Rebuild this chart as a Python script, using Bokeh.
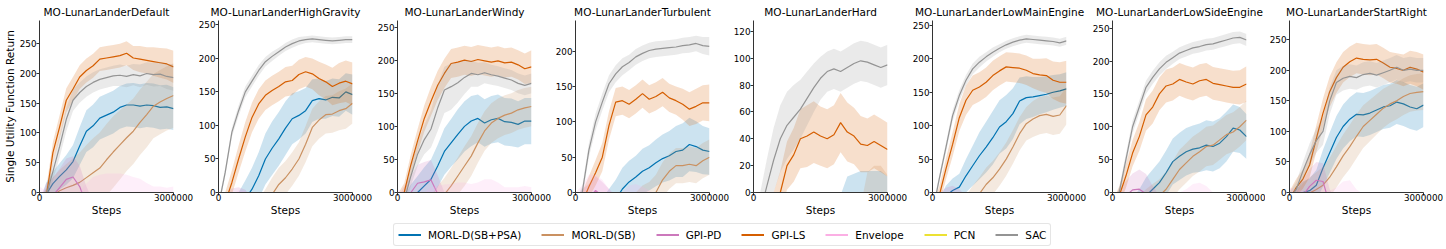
import numpy as np
from bokeh.plotting import figure
from bokeh.layouts import row, column
from bokeh.models import Range1d, FixedTicker, BasicTickFormatter, Legend, LegendItem, ColumnDataSource
from bokeh.embed import file_html
from bokeh.resources import INLINE

# ---------------- data ----------------
STEPS = [0, 150000, 300000, 450000, 600000, 750000, 900000, 1050000, 1200000, 1350000, 1500000,
         1650000, 1800000, 1950000, 2100000, 2250000, 2400000, 2550000, 2700000, 2850000, 3000000]

ALGOS = ["MORL-D(SB+PSA)", "MORL-D(SB)", "GPI-PD", "GPI-LS", "Envelope", "PCN", "SAC"]
COLORS = ["#0173b2", "#ca9161", "#cc78bc", "#d55e00", "#fbafe4", "#ece133", "#949494"]

ENVS = ["MO-LunarLanderDefault", "MO-LunarLanderHighGravity", "MO-LunarLanderWindy",
        "MO-LunarLanderTurbulent", "MO-LunarLanderHard", "MO-LunarLanderLowMainEngine",
        "MO-LunarLanderLowSideEngine", "MO-LunarLanderStartRight"]
Y_TOP = [289, 256.5, 260, 243.5, 128, 257.4, 261.6, 281.5]
Y_TICKS = [[0, 50, 100, 150, 200, 250], [0, 50, 100, 150, 200, 250], [0, 50, 100, 150, 200, 250],
           [0, 50, 100, 150, 200], [0, 20, 40, 60, 80, 100, 120], [0, 50, 100, 150, 200, 250],
           [0, 50, 100, 150, 200, 250], [0, 50, 100, 150, 200, 250]]
X_TICKS = [0, 3000000]

# MO-LunarLanderDefault
DEF_PSA = [-40, -3, 15, 27, 38, 52, 78, 103, 112, 125, 130, 135, 143, 147, 147, 145, 147, 146, 143, 144, 141]
DEF_PSA_SD = [20, 20, 20, 22, 25, 28, 32, 35, 36, 36, 36, 36, 36, 36, 37, 37, 37, 37, 37, 37, 36]
DEF_SB = [-40, -25, -5, 3, 8, 12, 17, 25, 33, 41, 55, 68, 80, 92, 103, 118, 131, 145, 152, 158, 163]
DEF_SB_SD = [30, 30, 30, 35, 40, 45, 50, 55, 58, 60, 60, 60, 58, 56, 55, 55, 55, 54, 54, 54, 54]
DEF_GPIPD = [-30, -10, -5, 8, 22, 26, 10, -20, -40, -50, -55, -60, -60, -60, -60, -60, -60, -60, -60, -60, -60]
DEF_GPIPD_SD = [20, 25, 30, 32, 35, 35, 35, 30, 25, 20, 20, 20, 20, 20, 20, 20, 20, 20, 20, 20, 20]
DEF_GPILS = [-40, -8, 67, 110, 155, 174, 194, 205, 213, 224, 226, 228, 230, 234, 226, 224, 222, 220, 218, 216, 211]
DEF_GPILS_SD = [15, 15, 18, 20, 20, 20, 20, 20, 20, 20, 20, 20, 20, 20, 20, 22, 22, 24, 25, 26, 27]
DEF_ENV = [-15, -18, -25, -30, -30, -30, -28, -25, -22, -20, -20, -20, -20, -20, -22, -22, -24, -25, -25, -25, -25]
DEF_ENV_SD = [25, 20, 15, 15, 20, 25, 30, 40, 48, 50, 52, 52, 52, 50, 48, 45, 40, 35, 35, 33, 35]
DEF_PCN = [-130, -126, -122, -118, -115, -112, -110, -108, -106, -105, -104, -103, -102, -101, -100, -100, -99, -99, -98, -98, -97]
DEF_PCN_SD = [15, 15, 15, 15, 15, 15, 15, 15, 15, 15, 15, 15, 15, 15, 15, 15, 15, 15, 15, 15, 15]
DEF_SAC = [-20, -5, 35, 77, 123, 155, 168, 178, 185, 190, 193, 196, 197, 195, 198, 196, 200, 198, 199, 195, 193]
DEF_SAC_SD = [10, 12, 15, 18, 20, 18, 17, 17, 17, 17, 17, 17, 18, 18, 18, 19, 19, 20, 20, 21, 22]

# MO-LunarLanderHighGravity
HG_PSA = [-60, -50, -40, -25, -10, 5, 25, 50, 66, 80, 96, 110, 115, 122, 137, 140, 138, 142, 141, 150, 146]
HG_PSA_SD = [20, 20, 22, 25, 28, 32, 35, 38, 40, 40, 40, 38, 36, 34, 32, 30, 28, 28, 28, 28, 30]
HG_SB = [-90, -85, -80, -70, -60, -50, -35, -20, -3, 12, 22, 35, 50, 72, 97, 108, 116, 117, 122, 125, 133]
HG_SB_SD = [25, 25, 25, 25, 25, 25, 25, 25, 25, 25, 25, 25, 25, 27, 28, 28, 28, 28, 29, 30, 30]
HG_GPIPD = [-40, -25, -12, -8, -14, -30, -40, -45, -50, -50, -50, -50, -50, -50, -50, -50, -50, -50, -50, -50, -50]
HG_GPIPD_SD = [20, 20, 18, 16, 18, 20, 20, 20, 20, 20, 20, 20, 20, 20, 20, 20, 20, 20, 20, 20, 20]
HG_GPILS = [-40, -15, 15, 50, 83, 112, 132, 145, 152, 158, 165, 167, 176, 180, 177, 170, 165, 158, 163, 166, 162]
HG_GPILS_SD = [15, 15, 18, 20, 22, 22, 22, 22, 22, 22, 22, 22, 22, 22, 23, 25, 26, 28, 30, 31, 32]
HG_ENV = [-35, -30, -25, -22, -20, -25, -30, -30, -30, -30, -30, -30, -30, -30, -30, -30, -30, -30, -30, -30, -30]
HG_ENV_SD = [20, 20, 22, 25, 22, 20, 20, 20, 20, 20, 20, 20, 20, 20, 20, 20, 20, 20, 20, 20, 20]
HG_PCN = [-140, -135, -130, -126, -122, -119, -116, -114, -112, -110, -109, -108, -107, -106, -105, -104, -104, -103, -103, -102, -102]
HG_PCN_SD = [15, 15, 15, 15, 15, 15, 15, 15, 15, 15, 15, 15, 15, 15, 15, 15, 15, 15, 15, 15, 15]
HG_SAC = [-20, 30, 90, 122, 150, 166, 182, 195, 203, 210, 217, 222, 226, 228, 229, 228, 227, 226, 227, 228, 228]
HG_SAC_SD = [5, 6, 7, 8, 8, 8, 8, 7, 7, 6, 6, 6, 6, 5, 5, 5, 5, 5, 5, 5, 5]

# MO-LunarLanderWindy
WIN_PSA = [-40, -25, -10, 0, 10, 20, 40, 62, 75, 88, 100, 108, 112, 105, 110, 112, 107, 106, 103, 108, 108]
WIN_PSA_SD = [20, 20, 22, 25, 28, 30, 32, 35, 36, 38, 38, 38, 36, 36, 36, 36, 36, 36, 35, 35, 35]
WIN_SB = [-80, -70, -60, -50, -40, -30, -15, -3, 10, 25, 40, 55, 75, 93, 105, 112, 117, 120, 125, 128, 130]
WIN_SB_SD = [25, 25, 25, 25, 25, 25, 25, 25, 27, 28, 30, 30, 30, 30, 30, 30, 30, 30, 30, 30, 30]
WIN_GPIPD = [-30, -12, 0, 14, 16, 19, -2, -25, -40, -45, -50, -50, -50, -50, -50, -50, -50, -50, -50, -50, -50]
WIN_GPIPD_SD = [20, 22, 25, 28, 30, 30, 28, 25, 20, 20, 20, 20, 20, 20, 20, 20, 20, 20, 20, 20, 20]
WIN_GPILS = [-15, 0, 42, 78, 112, 138, 162, 180, 195, 197, 200, 198, 201, 199, 197, 199, 196, 197, 193, 187, 190]
WIN_GPILS_SD = [12, 14, 16, 18, 20, 22, 22, 22, 22, 22, 22, 22, 22, 22, 22, 22, 22, 22, 22, 23, 25]
WIN_ENV = [-20, -22, -25, -25, -25, -22, -20, -15, -15, -15, -15, -15, -15, -15, -15, -18, -20, -20, -20, -20, -20]
WIN_ENV_SD = [25, 22, 20, 20, 25, 30, 30, 27, 28, 30, 30, 28, 30, 35, 35, 33, 28, 28, 28, 30, 28]
WIN_PCN = [-125, -121, -118, -115, -112, -110, -108, -106, -105, -104, -103, -102, -101, -100, -100, -99, -99, -98, -98, -97, -97]
WIN_PCN_SD = [15, 15, 15, 15, 15, 15, 15, 15, 15, 15, 15, 15, 15, 15, 15, 15, 15, 15, 15, 15, 15]
WIN_SAC = [-30, -12, 25, 58, 80, 96, 128, 155, 160, 166, 174, 180, 178, 181, 178, 176, 173, 170, 165, 162, 165]
WIN_SAC_SD = [10, 12, 15, 18, 22, 28, 35, 35, 35, 30, 25, 20, 18, 16, 15, 15, 15, 15, 15, 15, 15]

# MO-LunarLanderTurbulent
TUR_PSA = [-60, -55, -50, -40, -30, -20, -10, 5, 15, 22, 30, 35, 42, 48, 52, 58, 60, 68, 65, 60, 58]
TUR_PSA_SD = [20, 20, 20, 20, 22, 25, 28, 30, 30, 30, 32, 32, 33, 34, 35, 36, 38, 38, 36, 34, 33]
TUR_SB = [-90, -85, -80, -75, -70, -65, -55, -45, -35, -25, -15, -10, 0, 18, 30, 38, 38, 40, 38, 45, 50]
TUR_SB_SD = [25, 25, 25, 25, 25, 25, 25, 25, 25, 25, 25, 25, 25, 25, 25, 25, 25, 25, 25, 25, 25]
TUR_GPIPD = [-30, -15, -8, 3, -5, -15, -25, -30, -35, -40, -40, -40, -40, -40, -40, -40, -40, -40, -40, -40, -40]
TUR_GPIPD_SD = [20, 20, 20, 20, 20, 20, 20, 20, 20, 20, 20, 20, 20, 20, 20, 20, 20, 20, 20, 20, 20]
TUR_GPILS = [-40, -14, 8, 28, 50, 95, 128, 130, 125, 132, 140, 132, 136, 142, 134, 130, 125, 118, 122, 127, 127]
TUR_GPILS_SD = [15, 15, 15, 18, 20, 20, 20, 20, 20, 20, 20, 20, 20, 20, 20, 20, 22, 24, 25, 25, 26]
TUR_ENV = [-20, -15, -10, -10, -12, -15, -20, -20, -15, -10, -12, -15, -20, -20, -20, -20, -20, -20, -20, -20, -20]
TUR_ENV_SD = [20, 25, 35, 35, 30, 20, 15, 20, 25, 22, 20, 18, 18, 18, 18, 18, 18, 18, 18, 18, 18]
TUR_PCN = [-135, -130, -126, -122, -119, -116, -114, -112, -110, -109, -108, -107, -106, -105, -104, -104, -103, -103, -102, -102, -101]
TUR_PCN_SD = [15, 15, 15, 15, 15, 15, 15, 15, 15, 15, 15, 15, 15, 15, 15, 15, 15, 15, 15, 15, 15]
TUR_SAC = [-20, 0, 60, 100, 128, 154, 168, 178, 184, 192, 197, 201, 203, 204, 205, 206, 208, 209, 211, 208, 207]
TUR_SAC_SD = [8, 8, 10, 12, 12, 12, 12, 12, 11, 11, 11, 11, 11, 11, 11, 11, 11, 11, 11, 12, 13]

# MO-LunarLanderHard
HARD_PSA = [-50, -48, -46, -44, -42, -40, -38, -36, -34, -32, -30, -28, -26, -22, -10, -8, -6, -6, -6, -4, -8]
HARD_PSA_SD = [20, 20, 20, 20, 20, 20, 20, 20, 20, 20, 20, 20, 20, 20, 22, 22, 22, 22, 22, 20, 20]
HARD_SB = [-90, -88, -86, -84, -82, -80, -78, -76, -74, -72, -70, -65, -60, -55, -50, -45, -40, -25, -20, -20, -22]
HARD_SB_SD = [25, 25, 25, 25, 25, 25, 25, 25, 25, 25, 25, 25, 25, 25, 25, 25, 30, 40, 40, 40, 35]
HARD_GPIPD = [-60, -58, -56, -55, -54, -53, -52, -51, -50, -50, -50, -50, -50, -50, -50, -50, -50, -50, -50, -50, -50]
HARD_GPIPD_SD = [20, 20, 20, 20, 20, 20, 20, 20, 20, 20, 20, 20, 20, 20, 20, 20, 20, 20, 20, 20, 20]
HARD_GPILS = [-60, -45, -35, -15, 0, 20, 28, 40, 42, 45, 42, 40, 43, 52, 45, 42, 36, 35, 38, 35, 32]
HARD_GPILS_SD = [15, 15, 15, 15, 16, 18, 20, 22, 23, 23, 22, 22, 22, 22, 22, 21, 21, 20, 20, 20, 20]
HARD_ENV = [-45, -44, -43, -42, -41, -40, -40, -40, -40, -40, -40, -40, -40, -40, -40, -40, -40, -40, -40, -40, -40]
HARD_ENV_SD = [15, 15, 15, 15, 15, 15, 15, 15, 15, 15, 15, 15, 15, 15, 15, 15, 15, 15, 15, 15, 15]
HARD_PCN = [-150, -146, -142, -138, -135, -132, -130, -128, -126, -125, -124, -123, -122, -121, -120, -120, -119, -119, -118, -118, -117]
HARD_PCN_SD = [15, 15, 15, 15, 15, 15, 15, 15, 15, 15, 15, 15, 15, 15, 15, 15, 15, 15, 15, 15, 15]
HARD_SAC = [-40, -15, 5, 24, 40, 50, 56, 62, 70, 78, 85, 90, 92, 90, 93, 96, 98, 97, 95, 93, 95]
HARD_SAC_SD = [10, 15, 20, 24, 25, 25, 24, 22, 20, 18, 16, 15, 15, 15, 15, 15, 15, 15, 15, 15, 15]

# MO-LunarLanderLowMainEngine
LME_PSA = [-40, -25, -5, 3, 8, 25, 40, 55, 68, 82, 98, 106, 118, 137, 142, 143, 145, 147, 150, 152, 155]
LME_PSA_SD = [15, 15, 15, 18, 20, 25, 30, 35, 38, 40, 40, 40, 38, 35, 32, 30, 28, 27, 26, 25, 25]
LME_SB = [-80, -70, -60, -50, -40, -30, -15, -2, 12, 22, 35, 50, 68, 88, 103, 110, 115, 117, 114, 116, 130]
LME_SB_SD = [25, 25, 25, 25, 25, 25, 25, 25, 25, 25, 25, 25, 25, 25, 25, 27, 28, 28, 28, 28, 28]
LME_GPIPD = [-30, -15, -8, -5, -10, -20, -30, -35, -40, -40, -40, -40, -40, -40, -40, -40, -40, -40, -40, -40, -40]
LME_GPIPD_SD = [15, 15, 15, 15, 15, 15, 15, 15, 15, 15, 15, 15, 15, 15, 15, 15, 15, 15, 15, 15, 15]
LME_GPILS = [-30, -5, 35, 72, 112, 138, 153, 158, 165, 175, 182, 188, 187, 186, 183, 178, 176, 175, 168, 165, 165]
LME_GPILS_SD = [12, 14, 16, 18, 20, 22, 22, 22, 22, 22, 22, 22, 22, 22, 22, 22, 24, 26, 28, 30, 32]
LME_ENV = [-35, -34, -33, -32, -31, -30, -30, -30, -30, -30, -30, -30, -30, -30, -30, -30, -30, -30, -30, -30, -30]
LME_ENV_SD = [15, 15, 15, 15, 15, 15, 15, 15, 15, 15, 15, 15, 15, 15, 15, 15, 15, 15, 15, 15, 15]
LME_PCN = [-140, -136, -132, -128, -125, -122, -120, -118, -116, -115, -114, -113, -112, -111, -110, -110, -109, -109, -108, -108, -107]
LME_PCN_SD = [15, 15, 15, 15, 15, 15, 15, 15, 15, 15, 15, 15, 15, 15, 15, 15, 15, 15, 15, 15, 15]
LME_SAC = [-30, 20, 67, 115, 145, 168, 185, 195, 203, 210, 216, 221, 225, 228, 230, 229, 228, 227, 226, 224, 227]
LME_SAC_SD = [5, 6, 7, 8, 8, 8, 8, 8, 7, 7, 6, 6, 6, 6, 6, 6, 6, 6, 6, 6, 6]

# MO-LunarLanderLowSideEngine
LSE_PSA = [-50, -45, -40, -30, -20, -5, 5, 15, 30, 47, 55, 62, 66, 68, 72, 70, 75, 85, 98, 95, 85]
LSE_PSA_SD = [20, 20, 20, 22, 25, 28, 30, 32, 34, 35, 36, 36, 36, 37, 38, 38, 38, 38, 36, 35, 34]
LSE_SB = [-60, -55, -50, -40, -30, -20, -12, -5, 5, 20, 35, 45, 55, 62, 70, 72, 80, 88, 92, 100, 110]
LSE_SB_SD = [25, 25, 25, 25, 25, 25, 25, 25, 27, 28, 30, 30, 30, 30, 30, 30, 30, 30, 30, 30, 30]
LSE_GPIPD = [-30, -15, -5, 4, 5, -2, -15, -25, -35, -40, -40, -40, -40, -40, -40, -40, -40, -40, -40, -40, -40]
LSE_GPIPD_SD = [20, 20, 22, 25, 30, 30, 25, 20, 20, 20, 20, 20, 20, 20, 20, 20, 20, 20, 20, 20, 20]
LSE_GPILS = [-25, -5, 25, 60, 85, 118, 130, 150, 162, 165, 172, 168, 165, 170, 172, 166, 164, 162, 160, 160, 165]
LSE_GPILS_SD = [12, 14, 18, 20, 22, 24, 25, 25, 25, 25, 25, 25, 25, 25, 25, 25, 25, 25, 25, 26, 27]
LSE_ENV = [-25, -25, -25, -25, -25, -25, -25, -25, -25, -22, -20, -20, -20, -20, -20, -22, -25, -25, -25, -25, -25]
LSE_ENV_SD = [20, 20, 20, 20, 20, 20, 20, 20, 20, 20, 20, 25, 33, 35, 30, 22, 20, 20, 20, 20, 28]
LSE_PCN = [-135, -131, -127, -124, -121, -118, -116, -114, -112, -111, -110, -109, -108, -107, -106, -106, -105, -105, -104, -104, -103]
LSE_PCN_SD = [15, 15, 15, 15, 15, 15, 15, 15, 15, 15, 15, 15, 15, 15, 15, 15, 15, 15, 15, 15, 15]
LSE_SAC = [-30, 0, 50, 100, 130, 160, 175, 188, 198, 205, 212, 216, 220, 222, 225, 226, 229, 232, 235, 236, 232]
LSE_SAC_SD = [8, 8, 9, 10, 10, 10, 10, 10, 10, 9, 9, 9, 9, 9, 9, 9, 9, 9, 9, 9, 9]

# MO-LunarLanderStartRight
SR_PSA = [-30, -10, 0, 3, 12, 40, 65, 90, 108, 120, 128, 127, 130, 135, 140, 142, 148, 145, 140, 137, 143]
SR_PSA_SD = [15, 15, 18, 20, 25, 30, 33, 35, 36, 36, 36, 36, 36, 36, 36, 36, 36, 36, 36, 36, 36]
SR_SB = [-40, -25, -10, -1, 5, 12, 25, 42, 60, 75, 92, 108, 118, 128, 138, 145, 150, 157, 162, 164, 165]
SR_SB_SD = [25, 25, 25, 26, 28, 30, 32, 34, 35, 36, 36, 35, 34, 33, 32, 31, 30, 30, 30, 30, 30]
SR_GPIPD = [-30, -15, -5, 10, 20, 18, -20, -35, -45, -50, -50, -50, -50, -50, -50, -50, -50, -50, -50, -50, -50]
SR_GPIPD_SD = [20, 22, 25, 28, 30, 30, 25, 20, 20, 20, 20, 20, 20, 20, 20, 20, 20, 20, 20, 20, 20]
SR_GPILS = [-10, 8, 22, 45, 88, 130, 165, 188, 205, 214, 220, 218, 217, 218, 212, 205, 203, 200, 205, 202, 197]
SR_GPILS_SD = [12, 14, 16, 20, 22, 24, 25, 25, 25, 25, 25, 25, 25, 25, 25, 25, 25, 26, 27, 28, 29]
SR_ENV = [-20, -20, -22, -25, -25, -25, -22, -20, -18, -18, -20, -22, -25, -25, -25, -25, -25, -25, -25, -25, -25]
SR_ENV_SD = [28, 25, 25, 25, 25, 25, 25, 28, 36, 38, 25, 20, 20, 20, 20, 20, 20, 20, 20, 20, 20]
SR_PCN = [-130, -126, -122, -119, -116, -113, -111, -109, -107, -106, -105, -104, -103, -102, -101, -101, -100, -100, -99, -99, -98]
SR_PCN_SD = [15, 15, 15, 15, 15, 15, 15, 15, 15, 15, 15, 15, 15, 15, 15, 15, 15, 15, 15, 15, 15]
SR_SAC = [-10, 5, 35, 62, 85, 100, 150, 180, 187, 190, 188, 193, 195, 192, 196, 200, 205, 200, 202, 200, 200]
SR_SAC_SD = [10, 12, 15, 18, 20, 22, 22, 20, 20, 20, 20, 20, 20, 20, 20, 20, 20, 20, 20, 20, 20]

MEANS = [
    [DEF_PSA, DEF_SB, DEF_GPIPD, DEF_GPILS, DEF_ENV, DEF_PCN, DEF_SAC],
    [HG_PSA, HG_SB, HG_GPIPD, HG_GPILS, HG_ENV, HG_PCN, HG_SAC],
    [WIN_PSA, WIN_SB, WIN_GPIPD, WIN_GPILS, WIN_ENV, WIN_PCN, WIN_SAC],
    [TUR_PSA, TUR_SB, TUR_GPIPD, TUR_GPILS, TUR_ENV, TUR_PCN, TUR_SAC],
    [HARD_PSA, HARD_SB, HARD_GPIPD, HARD_GPILS, HARD_ENV, HARD_PCN, HARD_SAC],
    [LME_PSA, LME_SB, LME_GPIPD, LME_GPILS, LME_ENV, LME_PCN, LME_SAC],
    [LSE_PSA, LSE_SB, LSE_GPIPD, LSE_GPILS, LSE_ENV, LSE_PCN, LSE_SAC],
    [SR_PSA, SR_SB, SR_GPIPD, SR_GPILS, SR_ENV, SR_PCN, SR_SAC],
]
SDS = [
    [DEF_PSA_SD, DEF_SB_SD, DEF_GPIPD_SD, DEF_GPILS_SD, DEF_ENV_SD, DEF_PCN_SD, DEF_SAC_SD],
    [HG_PSA_SD, HG_SB_SD, HG_GPIPD_SD, HG_GPILS_SD, HG_ENV_SD, HG_PCN_SD, HG_SAC_SD],
    [WIN_PSA_SD, WIN_SB_SD, WIN_GPIPD_SD, WIN_GPILS_SD, WIN_ENV_SD, WIN_PCN_SD, WIN_SAC_SD],
    [TUR_PSA_SD, TUR_SB_SD, TUR_GPIPD_SD, TUR_GPILS_SD, TUR_ENV_SD, TUR_PCN_SD, TUR_SAC_SD],
    [HARD_PSA_SD, HARD_SB_SD, HARD_GPIPD_SD, HARD_GPILS_SD, HARD_ENV_SD, HARD_PCN_SD, HARD_SAC_SD],
    [LME_PSA_SD, LME_SB_SD, LME_GPIPD_SD, LME_GPILS_SD, LME_ENV_SD, LME_PCN_SD, LME_SAC_SD],
    [LSE_PSA_SD, LSE_SB_SD, LSE_GPIPD_SD, LSE_GPILS_SD, LSE_ENV_SD, LSE_PCN_SD, LSE_SAC_SD],
    [SR_PSA_SD, SR_SB_SD, SR_GPIPD_SD, SR_GPILS_SD, SR_ENV_SD, SR_PCN_SD, SR_SAC_SD],
]

# ---------------- layout ----------------
FONT = "DejaVu Sans"
FRAME_W, FRAME_H = 134, 174
BORDER_L = [39, 24, 24, 24, 24, 24, 24, 24]
BORDER_R = [21, 21, 20, 20, 21, 22, 19, 20]
BORDER_T, BORDER_B = 18, 31

x = np.array(STEPS, dtype=float)
figs = []
first_sources = []
for i, env in enumerate(ENVS):
    p = figure(width=BORDER_L[i] + FRAME_W + BORDER_R[i], height=BORDER_T + FRAME_H + BORDER_B,
               x_range=Range1d(0, 3000000), y_range=Range1d(0, Y_TOP[i]),
               toolbar_location=None, output_backend="svg", title=env,
               min_border_left=BORDER_L[i], min_border_right=BORDER_R[i],
               min_border_top=BORDER_T, min_border_bottom=BORDER_B,
               outline_line_color=None, background_fill_color="white")
    p.title.align = "center"
    p.title.text_font = FONT
    p.title.text_font_size = "10.5px"
    p.title.text_font_style = "normal"
    p.title.text_color = "black"
    p.title.standoff = 6
    p.xgrid.visible = False
    p.ygrid.visible = False
    for ax in (p.xaxis[0], p.yaxis[0]):
        ax.axis_line_color = "#333333"
        ax.axis_line_width = 1
        ax.major_tick_line_color = "#333333"
        ax.major_tick_in = 0
        ax.major_tick_out = 3
        ax.minor_tick_line_color = None
        ax.major_label_text_font = FONT
        ax.major_label_text_font_size = "8.8px"
        ax.major_label_text_color = "black"
        ax.axis_label_text_font = FONT
        ax.axis_label_text_font_size = "10.5px"
        ax.axis_label_text_font_style = "normal"
        ax.axis_label_text_color = "black"
    p.xaxis.ticker = FixedTicker(ticks=X_TICKS)
    p.xaxis.formatter = BasicTickFormatter(use_scientific=False)
    p.xaxis.major_label_standoff = -2
    p.xaxis.axis_label = "Steps"
    p.xaxis.axis_label_standoff = 0
    p.yaxis.ticker = FixedTicker(ticks=Y_TICKS[i])
    p.yaxis.major_label_standoff = 0
    if i == 0:
        p.yaxis.axis_label = "Single Utility Function Return"
        p.yaxis.axis_label_standoff = 1

    for j, algo in enumerate(ALGOS):
        m = np.array(MEANS[i][j], dtype=float)
        s = np.array(SDS[i][j], dtype=float)
        src = ColumnDataSource(dict(x=x, m=m, lo=m - s, hi=m + s))
        if i == 0:
            first_sources.append(src)
        p.varea(x="x", y1="lo", y2="hi", source=src, fill_color=COLORS[j], fill_alpha=0.2)
        p.line(x="x", y="m", source=src, line_color=COLORS[j], line_width=1.2)
    figs.append(p)

# legend figure: the legend renderers reuse the first panel's data but the view is set
# far away from it, so only the legend entries are visible
total_w = sum(BORDER_L) + sum(BORDER_R) + FRAME_W * len(ENVS)
leg_h = 249 - (BORDER_T + FRAME_H + BORDER_B)
lf = figure(width=total_w, height=leg_h, toolbar_location=None, output_backend="svg",
            x_axis_location=None, y_axis_location=None, min_border=0,
            outline_line_color=None, x_range=Range1d(0, 3000000), y_range=Range1d(10000, 10001))
lf.xgrid.visible = False
lf.ygrid.visible = False
items = []
for j, algo in enumerate(ALGOS):
    r = lf.line(x="x", y="m", source=first_sources[j], line_color=COLORS[j], line_width=2)
    items.append(LegendItem(label=algo, renderers=[r]))
legend = Legend(items=items, orientation="horizontal", location=(393, 3),
                spacing=20, padding=4, margin=0, glyph_width=23, glyph_height=13,
                label_standoff=7, label_height=13, label_width=10,
                label_text_font=FONT, label_text_font_size="10.5px",
                label_text_baseline="middle", label_text_color="black",
                border_line_color="#cccccc", border_line_width=1,
                background_fill_color="white", background_fill_alpha=1.0)
try:
    legend.border_radius = 3
except Exception:
    pass
lf.add_layout(legend)

layout = column(row(*figs, spacing=0), lf, spacing=0)

open("out.html", "w").write(file_html(layout, INLINE))
